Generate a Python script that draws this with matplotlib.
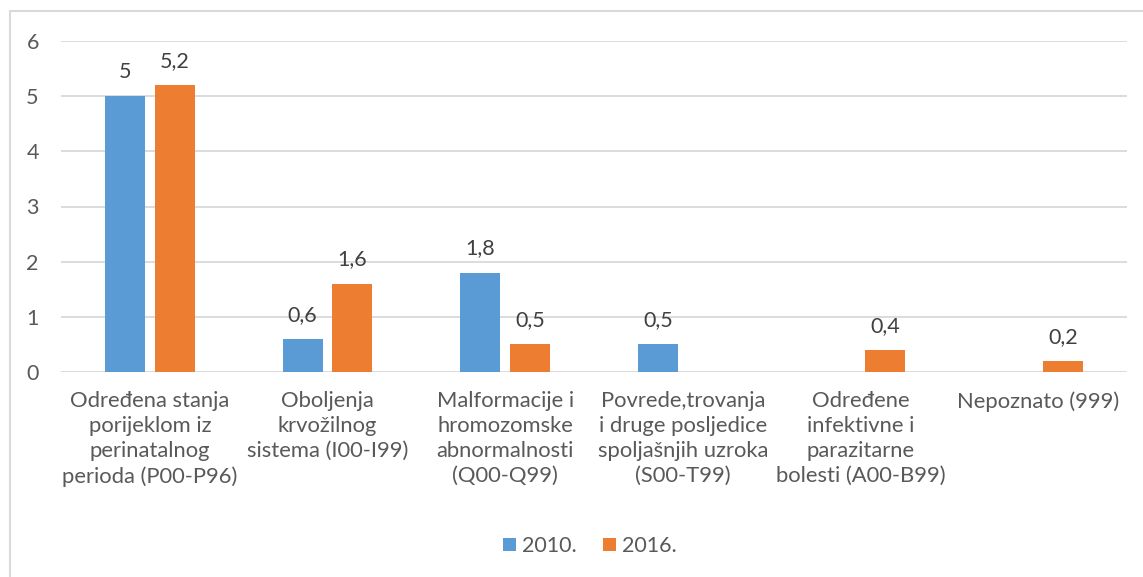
import matplotlib
matplotlib.use("Agg")
import matplotlib.pyplot as plt
from matplotlib.patches import Rectangle
import numpy as np

categories = [
    "Određena stanja\nporijeklom iz\nperinatalnog\nperioda (P00-P96)",
    "Oboljenja\nkrvožilnog\nsistema (I00-I99)",
    "Malformacije i\nhromozomske\nabnormalnosti\n(Q00-Q99)",
    "Povrede,trovanja\ni druge posljedice\nspoljašnjih uzroka\n(S00-T99)",
    "Određene\ninfektivne i\nparazitarne\nbolesti (A00-B99)",
    "Nepoznato (999)",
]
series_names = ["2010.", "2016."]
values_2010 = [5.0, 0.6, 1.8, 0.5, None, None]
values_2016 = [5.2, 1.6, 0.5, None, 0.4, 0.2]
yticks = [0, 1, 2, 3, 4, 5, 6]

colors = ["#5B9BD5", "#ED7D31"]
txt = "#595959"
plt.rcParams['font.family'] = ['Lato', 'DejaVu Sans']

W, H = 1143, 577
fig = plt.figure(figsize=(W/100, H/100), dpi=100)
ax = fig.add_axes([61/W, 1-372/H, (1127-61)/W, (372-41)/H])

x = np.arange(len(categories))
bw = 0.225
gap = 0.056
off = (bw + gap) / 2
for vals, c, sgn, name in [(values_2010, colors[0], -1, series_names[0]),
                           (values_2016, colors[1], 1, series_names[1])]:
    xs = [xi + sgn*off for xi, v in zip(x, vals) if v is not None]
    vs = [v for v in vals if v is not None]
    ax.bar(xs, vs, width=bw, color=c, label=name, zorder=3)
    for xi, v in zip(xs, vs):
        ax.text(xi, v + 0.33, f"{v:g}".replace(".", ","), ha="center", va="baseline",
                fontsize=15.5, color="#404040")

ax.set_xlim(-0.5, len(categories) - 0.5)
ax.set_ylim(0, 6)
ax.set_yticks(yticks)
ax.set_yticklabels([str(t) for t in yticks], fontsize=15.5, color=txt)
ax.set_xticks(x)
ax.set_xticklabels(categories, fontsize=15.8, color=txt, linespacing=1.3, va="top")
ax.tick_params(axis="both", length=0)
ax.tick_params(axis="y", pad=16)
ax.tick_params(axis="x", pad=14)
ax.grid(axis="y", color="#D9D9D9", linewidth=1.3, zorder=0)
for s in ax.spines.values():
    s.set_visible(False)

leg = fig.legend(loc="center", bbox_to_anchor=(590/W, 1-546/H), ncol=2, frameon=False,
                 fontsize=15.5, handlelength=0.6, handleheight=0.6, handletextpad=0.3,
                 columnspacing=1.2)
for t in leg.get_texts():
    t.set_color(txt)

fig.patches.append(Rectangle((10/W, -0.1), 1.2, 1 - 11/H + 0.1, transform=fig.transFigure,
                             fill=False, edgecolor="#D9D9D9", linewidth=1.5))

fig.savefig("out.png", dpi=100)
